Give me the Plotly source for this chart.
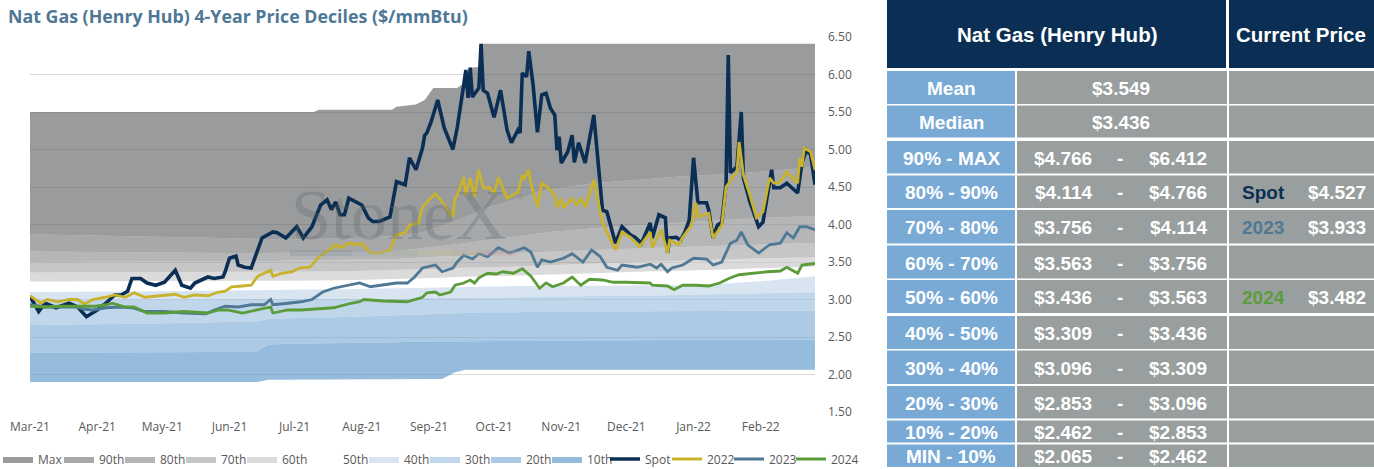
"""Nat Gas (Henry Hub) : déciles de prix sur 4 ans, avec le tableau récapitulatif à droite."""

import pandas as pd
import plotly.graph_objects as go

# ---------------------------------------------------------------- données
START = pd.Timestamp("2021-03-01")
END_DAY = 362  # jours depuis START

# bornes des déciles (jours depuis START)
band_day = [0, 30, 60, 90, 105, 110, 120, 150, 170, 180, 190, 196, 201, 210, 225, 240, 260, 280, 300, 320, 340, 362]
p0 = [1.90, 1.90, 1.90, 1.90, 1.90, 1.93, 1.93, 1.93, 1.94, 1.94, 1.94, 2.03, 2.065, 2.065, 2.065, 2.065, 2.065, 2.065, 2.065, 2.065, 2.065, 2.065]
p10 = [2.29, 2.29, 2.30, 2.30, 2.31, 2.40, 2.41, 2.42, 2.43, 2.44, 2.44, 2.44, 2.45, 2.45, 2.45, 2.45, 2.455, 2.46, 2.46, 2.46, 2.46, 2.462]
p20 = [2.66, 2.67, 2.68, 2.70, 2.71, 2.74, 2.75, 2.77, 2.79, 2.80, 2.81, 2.82, 2.82, 2.83, 2.83, 2.84, 2.84, 2.845, 2.85, 2.85, 2.85, 2.853]
p30 = [3.00, 3.00, 3.00, 3.00, 3.00, 3.00, 3.00, 3.01, 3.01, 3.02, 3.02, 3.02, 3.02, 3.03, 3.03, 3.04, 3.04, 3.05, 3.06, 3.07, 3.08, 3.096]
p40 = [3.10, 3.10, 3.11, 3.12, 3.12, 3.12, 3.13, 3.14, 3.15, 3.16, 3.17, 3.17, 3.17, 3.17, 3.18, 3.18, 3.18, 3.19, 3.19, 3.21, 3.25, 3.309]
p50 = [3.24, 3.24, 3.24, 3.25, 3.25, 3.25, 3.25, 3.26, 3.27, 3.28, 3.29, 3.30, 3.30, 3.31, 3.32, 3.33, 3.35, 3.37, 3.38, 3.40, 3.42, 3.436]
p60 = [3.36, 3.36, 3.36, 3.37, 3.37, 3.37, 3.37, 3.38, 3.39, 3.40, 3.41, 3.42, 3.42, 3.43, 3.44, 3.46, 3.48, 3.50, 3.52, 3.54, 3.55, 3.563]
p70 = [3.50, 3.50, 3.50, 3.51, 3.51, 3.51, 3.52, 3.53, 3.54, 3.56, 3.57, 3.58, 3.59, 3.60, 3.62, 3.64, 3.66, 3.68, 3.70, 3.72, 3.74, 3.756]
p80 = [3.64, 3.63, 3.62, 3.62, 3.62, 3.62, 3.62, 3.63, 3.65, 3.68, 3.71, 3.73, 3.75, 3.79, 3.85, 3.90, 3.95, 3.99, 4.02, 4.06, 4.09, 4.114]
p90 = [3.87, 3.85, 3.83, 3.81, 3.80, 3.80, 3.80, 3.82, 3.85, 3.89, 3.98, 4.05, 4.10, 4.22, 4.34, 4.47, 4.55, 4.60, 4.64, 4.67, 4.71, 4.766]
max_day = [0, 131, 133, 167, 169, 178, 182, 186, 197, 200, 203, 207, 208, 362]
max_val = [5.50, 5.50, 5.53, 5.53, 5.57, 5.60, 5.66, 5.82, 5.82, 5.88, 6.09, 6.10, 6.41, 6.41]

spot_day = [0, 4, 7, 12, 18, 22, 26, 31, 35, 39, 42, 45, 47, 51, 54, 58, 62, 67, 70, 74, 76, 82, 85, 89, 90, 92,
            95, 96, 99, 102, 105, 107, 112, 114, 118, 123, 126, 130, 134, 137, 139, 141, 143, 145, 147, 151, 153,
            156, 158, 161, 166, 169, 173, 175, 178, 181, 182, 183, 185, 188, 190, 191, 195, 197, 200, 201, 202,
            203, 204, 207, 208, 209, 211, 213, 214, 217, 220, 222, 225, 226, 227, 229, 230, 232, 234, 236, 238,
            240, 242, 243, 244, 245, 248, 250, 251, 253, 256, 260, 264, 266, 267, 270, 273, 277, 279, 282, 286,
            287, 290, 293, 294, 295, 298, 300, 302, 304, 306, 308, 312, 313, 315, 317, 319, 321, 322, 323, 326,
            328, 329, 332, 336, 338, 342, 343, 346, 349, 354, 356, 358, 360, 362]
spot_val = [3.04, 2.84, 2.95, 2.89, 2.95, 2.90, 2.77, 2.86, 2.95, 3.06, 3.06, 3.11, 3.28, 3.28, 3.22, 3.19, 3.23,
            3.39, 3.19, 3.15, 3.22, 3.30, 3.28, 3.30, 3.37, 3.55, 3.58, 3.46, 3.43, 3.42, 3.66, 3.82, 3.90, 3.89,
            3.82, 3.97, 3.82, 3.97, 4.26, 4.33, 4.20, 4.30, 4.13, 4.13, 4.35, 4.29, 4.26, 4.09, 4.04, 4.04, 4.10,
            4.57, 4.53, 4.89, 4.73, 5.02, 5.19, 5.22, 5.37, 5.66, 5.42, 5.29, 5.00, 5.29, 5.86, 6.06, 5.69, 6.09,
            5.70, 5.82, 6.41, 5.79, 5.75, 5.55, 5.43, 5.79, 5.26, 5.09, 5.26, 5.22, 6.02, 5.97, 6.31, 5.86, 5.23,
            5.73, 5.75, 5.55, 5.46, 4.99, 5.17, 4.82, 4.97, 5.19, 4.83, 5.09, 4.82, 5.46, 4.19, 4.17, 4.06, 3.75,
            3.97, 3.86, 3.83, 3.75, 4.02, 3.82, 4.13, 4.09, 3.62, 3.82, 3.83, 3.79, 3.90, 4.06, 4.89, 4.29, 4.29,
            4.19, 3.82, 3.99, 4.03, 4.55, 6.26, 4.69, 4.77, 5.50, 4.62, 4.30, 3.97, 4.03, 4.73, 4.49, 4.49, 4.55,
            4.42, 4.82, 4.99, 4.93, 4.53]

y2022_day = [0, 5, 8, 13, 18, 22, 25, 29, 35, 39, 44, 48, 53, 59, 67, 71, 76, 82, 87, 90, 93, 98, 102, 105, 111,
             112, 116, 121, 124, 129, 134, 138, 141, 143, 147, 151, 153, 157, 161, 166, 169, 173, 175, 179, 181,
             184, 187, 190, 192, 195, 196, 197, 200, 201, 203, 205, 207, 209, 212, 214, 216, 220, 225, 227, 228,
             230, 231, 234, 236, 239, 242, 243, 245, 246, 250, 252, 254, 256, 260, 264, 266, 270, 273, 277, 281,
             286, 287, 291, 294, 295, 299, 301, 305, 307, 308, 313, 315, 318, 319, 321, 324, 326, 327, 329, 332,
             335, 338, 341, 343, 346, 349, 354, 355, 356, 357, 360, 362]
y2022_val = [3.05, 2.95, 3.00, 2.97, 3.00, 3.00, 2.94, 3.00, 3.03, 3.06, 3.03, 3.09, 3.03, 3.05, 3.07, 3.03, 3.06,
             3.05, 3.10, 3.11, 3.17, 3.18, 3.19, 3.31, 3.39, 3.31, 3.35, 3.37, 3.42, 3.43, 3.59, 3.66, 3.73, 3.69,
             3.75, 3.73, 3.75, 3.62, 3.62, 3.66, 3.86, 3.89, 3.99, 4.02, 4.23, 4.33, 4.41, 4.30, 4.22, 4.10, 4.35,
             4.39, 4.63, 4.39, 4.62, 4.37, 4.73, 4.49, 4.49, 4.42, 4.63, 4.35, 4.43, 4.66, 4.62, 4.73, 4.55, 4.23,
             4.55, 4.49, 4.39, 4.23, 4.35, 4.22, 4.35, 4.26, 4.35, 4.23, 4.59, 4.03, 3.90, 3.66, 3.90, 3.83, 3.70,
             3.90, 3.69, 3.93, 3.62, 3.79, 3.73, 3.83, 3.99, 4.29, 4.10, 4.15, 3.82, 3.95, 3.99, 4.50, 4.62, 4.70,
             5.10, 4.66, 4.39, 4.09, 4.17, 4.62, 4.55, 4.57, 4.70, 4.55, 4.89, 4.77, 5.02, 4.97, 4.73]

y2023_day = [0, 7, 13, 21, 25, 29, 35, 41, 47, 53, 62, 71, 81, 85, 90, 96, 102, 108, 111, 112, 119, 125, 130, 135,
             140, 144, 152, 157, 163, 169, 174, 177, 181, 187, 190, 195, 197, 200, 204, 207, 211, 216, 221, 228,
             231, 234, 236, 240, 246, 250, 255, 259, 263, 266, 271, 273, 280, 286, 289, 291, 294, 296, 301, 306,
             312, 315, 319, 323, 326, 328, 331, 336, 341, 346, 349, 352, 355, 358, 362]
y2023_val = [2.93, 2.90, 2.90, 2.90, 2.87, 2.86, 2.89, 2.90, 2.89, 2.84, 2.84, 2.82, 2.81, 2.86, 2.91, 2.90, 2.93,
             2.93, 3.00, 2.93, 2.95, 2.97, 3.00, 3.10, 3.15, 3.17, 3.22, 3.17, 3.19, 3.22, 3.22, 3.29, 3.42, 3.46,
             3.37, 3.42, 3.50, 3.59, 3.54, 3.61, 3.57, 3.69, 3.62, 3.69, 3.63, 3.43, 3.53, 3.50, 3.55, 3.61, 3.50,
             3.66, 3.57, 3.43, 3.39, 3.46, 3.43, 3.47, 3.42, 3.47, 3.37, 3.42, 3.46, 3.55, 3.54, 3.46, 3.50, 3.75,
             3.79, 3.90, 3.73, 3.62, 3.73, 3.75, 3.89, 3.82, 3.97, 3.97, 3.93]

y2024_day = [0, 7, 13, 19, 25, 30, 35, 38, 44, 48, 54, 62, 71, 82, 87, 91, 98, 105, 111, 112, 119, 125, 140, 148,
             152, 154, 163, 174, 181, 183, 187, 189, 194, 196, 200, 203, 205, 207, 211, 215, 218, 223, 227, 231,
             235, 238, 241, 246, 250, 254, 258, 264, 269, 275, 281, 286, 287, 294, 297, 301, 307, 313, 318, 323,
             327, 333, 340, 346, 349, 354, 356, 362]
y2024_val = [2.91, 2.90, 2.91, 2.91, 2.90, 2.91, 2.93, 2.95, 2.90, 2.90, 2.82, 2.82, 2.84, 2.82, 2.86, 2.86, 2.82,
             2.86, 2.90, 2.82, 2.86, 2.86, 2.89, 2.95, 2.97, 3.00, 2.98, 2.97, 3.03, 3.09, 3.10, 3.06, 3.10, 3.19,
             3.22, 3.26, 3.22, 3.29, 3.35, 3.34, 3.37, 3.35, 3.41, 3.31, 3.15, 3.22, 3.17, 3.22, 3.30, 3.19, 3.27,
             3.26, 3.23, 3.23, 3.22, 3.22, 3.19, 3.18, 3.13, 3.19, 3.19, 3.18, 3.22, 3.29, 3.33, 3.35, 3.37, 3.38,
             3.43, 3.35, 3.46, 3.48]

# tableau
table_title = "Nat Gas (Henry Hub)"
current_title = "Current Price"
row_labels = ["Mean", "Median", "90% - MAX", "80% - 90%", "70% - 80%", "60% - 70%", "50% - 60%",
              "40% - 50%", "30% - 40%", "20% - 30%", "10% - 20%", "MIN - 10%"]
mean_price = 3.549
median_price = 3.436
range_low = [4.766, 4.114, 3.756, 3.563, 3.436, 3.309, 3.096, 2.853, 2.462, 2.065]
range_high = [6.412, 4.766, 4.114, 3.756, 3.563, 3.436, 3.309, 3.096, 2.853, 2.462]
current_names = ["Spot", "2023", "2024"]
current_prices = [4.527, 3.933, 3.482]
current_rows = ["80% - 90%", "70% - 80%", "50% - 60%"]

# ---------------------------------------------------------------- mise en page
W, H = 1374, 469
ML, MR, MT, MB = 30, 559, 37, 57
PW, PH = W - ML - MR, H - MT - MB

NAVY = "#0b2f54"
C2022 = "#c9b22c"
C2023 = "#4e7894"
C2024 = "#5b9c3a"
LABEL_BLUE = "#79aad5"
CELL_GRAY = "#999f9e"
TICK_GRAY = "#595959"


def px(x):
    """pixel horizontal -> coordonnée paper"""
    return (x - ML) / PW


def py(y):
    """pixel vertical -> coordonnée paper"""
    return 1 - (y - MT) / PH


def to_dates(days):
    return START + pd.to_timedelta(days, unit="D")


fig = go.Figure()

# socle des aires empilées
fig.add_trace(go.Scatter(x=to_dates(band_day), y=p0, mode="lines", line=dict(width=0),
                         showlegend=False, hoverinfo="skip"))

bands = [
    ("10th", band_day, p10, "rgba(78,143,198,0.6)"),
    ("20th", band_day, p20, "rgba(117,167,212,0.6)"),
    ("30th", band_day, p30, "rgba(150,187,220,0.6)"),
    ("40th", band_day, p40, "rgba(190,212,232,0.6)"),
    ("50th", band_day, p50, "rgba(255,255,255,0)"),
    ("60th", band_day, p60, "rgba(195,195,195,0.6)"),
    ("70th", band_day, p70, "rgba(160,160,162,0.6)"),
    ("80th", band_day, p80, "rgba(132,133,137,0.6)"),
    ("90th", band_day, p90, "rgba(108,110,113,0.6)"),
    ("Max", max_day, max_val, "rgba(87,88,92,0.6)"),
]
for i, (name, days, vals, color) in enumerate(bands):
    fig.add_trace(go.Scatter(x=to_dates(days), y=vals, name=name, mode="lines", line=dict(width=0),
                             fill="tonexty", fillcolor=color, legendrank=10 - i, hoverinfo="skip",
                             legendwidth=30 if i == 0 else None))

lines = [
    ("Spot", spot_day, spot_val, NAVY, 3.6),
    ("2022", y2022_day, y2022_val, C2022, 2.8),
    ("2023", y2023_day, y2023_val, C2023, 2.8),
    ("2024", y2024_day, y2024_val, C2024, 2.8),
]
for i, (name, days, vals, color, width) in enumerate(lines):
    fig.add_trace(go.Scatter(x=to_dates(days), y=vals, name=name, mode="lines",
                             line=dict(color=color, width=width), legend="legend2", legendrank=11 + i,
                             legendwidth=30 if name == "2024" else None))

x_range = [START, START + pd.Timedelta(days=END_DAY)]
tick_font = dict(family="Open Sans", size=12, color=TICK_GRAY)
legend_font = dict(family="Open Sans", size=12, color=TICK_GRAY)

fig.update_layout(
    width=W, height=H,
    margin=dict(l=ML, r=MR, t=MT, b=MB, pad=0, autoexpand=False),
    paper_bgcolor="white", plot_bgcolor="white",
    hovermode=False,
    xaxis=dict(type="date", range=x_range, dtick="M1", tick0="2021-03-01", tickformat="%b-%y",
               showgrid=False, zeroline=False, showline=False, ticks="", tickfont=tick_font,
               ticklabelstandoff=6),
    xaxis2=dict(type="date", range=x_range, dtick="M1", tick0="2021-03-01", overlaying="x", side="top",
                anchor="y", ticks="inside", ticklen=5, tickcolor="#d9d9d9", showticklabels=False,
                showgrid=False, showline=True, linecolor="#d9d9d9", zeroline=False),
    yaxis=dict(range=[1.5, 6.5], dtick=0.5, tick0=1.5, tickformat=".2f", side="right",
               gridcolor="#d9d9d9", gridwidth=1, zeroline=False, showline=False, ticks="",
               tickfont=tick_font, ticklabelstandoff=12),
    legend=dict(orientation="h", x=px(-2), xanchor="left", y=py(459), yanchor="middle",
                traceorder="normal", entrywidth=16, font=legend_font, bgcolor="rgba(0,0,0,0)"),
    legend2=dict(orientation="h", x=px(605), xanchor="left", y=py(459), yanchor="middle",
                 traceorder="normal", entrywidth=17, font=legend_font, bgcolor="rgba(0,0,0,0)"),
)

# titre du graphique
fig.add_annotation(text="Nat Gas (Henry Hub) 4-Year Price Deciles ($/mmBtu)", xref="paper", yref="paper",
                   x=px(6), y=py(16), xanchor="left", yanchor="middle", showarrow=False,
                   font=dict(family="Open Sans", size=17.8, color="#4e7896", weight="bold"))

# filigrane
fig.add_annotation(text="StoneX", xref="paper", yref="paper", x=px(399), y=py(215), showarrow=False,
                   xanchor="center", yanchor="middle",
                   font=dict(family="Liberation Serif", size=72, color="rgba(90,96,102,0.28)"))
fig.add_annotation(text="®", xref="paper", yref="paper", x=px(521), y=py(198), showarrow=False,
                   font=dict(family="Liberation Sans", size=8, color="rgba(90,96,102,0.35)"))
stripe = [(290, 352, "#7d8a96"), (352, 386, "#9aa8b5"), (386, 418, "#a5ae9a"),
          (418, 452, "#c6c08a"), (452, 484, "#c2ae8e"), (484, 517, "#c49b9b")]
for x0, x1, c in stripe:
    fig.add_shape(type="rect", xref="paper", yref="paper", x0=px(x0), x1=px(x1), y0=py(256), y1=py(250),
                  fillcolor=c, opacity=0.3, line=dict(width=0), layer="above")

# ---------------------------------------------------------------- tableau
COL_L, COL_V, COL_C, COL_R = 887, 1017, 1229, 1374
row_top = [71, 105.5, 141, 175.5, 210, 245.5, 280, 316, 350.5, 386, 420.5, 444.5]
row_bot = [104, 137.5, 173.5, 208, 243.5, 278.5, 313, 349, 384, 418.5, 442.5, 467]


def cell(x0, x1, y0, y1, color):
    fig.add_shape(type="rect", xref="paper", yref="paper", x0=px(x0), x1=px(x1), y0=py(y1), y1=py(y0),
                  fillcolor=color, line=dict(width=0), layer="above")


def text(s, x, y, color="white", size=19):
    fig.add_annotation(text=s, xref="paper", yref="paper", x=px(x), y=py(y), showarrow=False,
                       xanchor="center", yanchor="middle",
                       font=dict(family="Liberation Sans", size=size, color=color, weight="bold"))


cell(COL_L, COL_C - 3, 0, 68, NAVY)
cell(COL_C, COL_R, 0, 68, NAVY)
text(table_title, 1057, 35, size=20.5)
text(current_title, 1301, 35, size=20.5)

current_colors = {"Spot": NAVY, "2023": C2023, "2024": C2024}
for i, label in enumerate(row_labels):
    y0, y1 = row_top[i], row_bot[i]
    yc = (y0 + y1) / 2 + 1
    cell(COL_L, COL_V - 2, y0, y1, LABEL_BLUE)
    cell(COL_V, COL_C - 2, y0, y1, CELL_GRAY)
    cell(COL_C, COL_R, y0, y1, CELL_GRAY)
    text(label, 951, yc)
    if i == 0:
        text(f"${mean_price:.3f}", 1121, yc)
    elif i == 1:
        text(f"${median_price:.3f}", 1121, yc)
    else:
        text(f"${range_low[i - 2]:.3f}", 1063, yc)
        text("-", 1120, yc)
        text(f"${range_high[i - 2]:.3f}", 1178, yc)
    if label in current_rows:
        k = current_rows.index(label)
        name = current_names[k]
        text(name, 1263, yc, color=current_colors[name])
        text(f"${current_prices[k]:.3f}", 1337, yc)

# la page html garde sinon la marge par défaut du <body>
fig.write_html("out.html", config={"displayModeBar": False},
               post_script="document.body.style.margin = '0px';")
